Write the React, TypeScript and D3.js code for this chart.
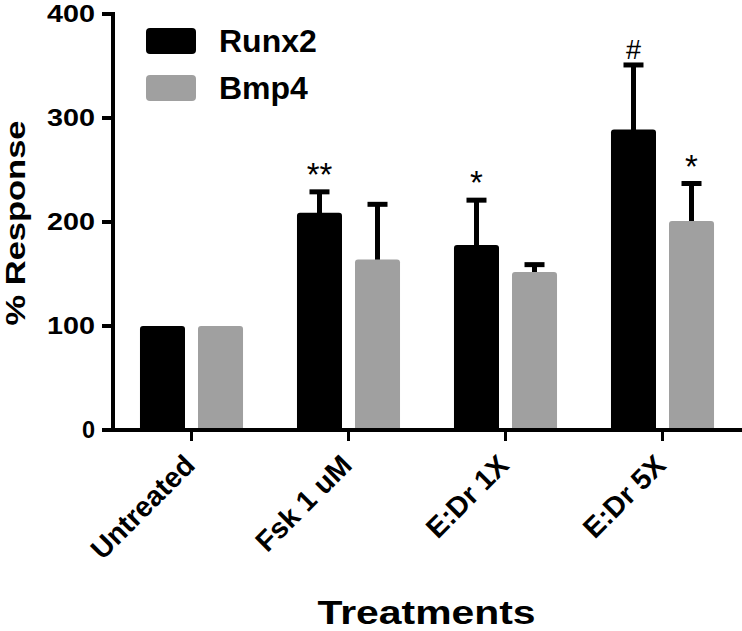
import React from "react";
import * as d3 from "d3";

const categories = ["Untreated", "Fsk 1 uM", "E:Dr 1X", "E:Dr 5X"];
const seriesNames = ["Runx2", "Bmp4"];
const runx2 = [100, 209, 178, 289];
const runx2Err = [0, 20, 43, 62];
const bmp4 = [100, 164, 152, 201];
const bmp4Err = [0, 53, 7, 36];
const runx2Sig = ["", "**", "*", "#"];
const bmp4Sig = ["", "", "", "*"];
const yTicks = [0, 100, 200, 300, 400];

const W = 742;
const H = 631;
const FONT = "'Liberation Sans', Arial, sans-serif";
const colors: Record<string, string> = { Runx2: "#000000", Bmp4: "#a0a0a0" };

export default function App() {
  const x = d3.scaleBand<string>().domain(categories).range([113, 741]).padding(0);
  const xs = d3
    .scaleBand<string>()
    .domain(seriesNames)
    .range([0, x.bandwidth()])
    .paddingInner(0.224)
    .paddingOuter(0.465);
  const y = d3.scaleLinear().domain([0, 400]).range([430, 14]);

  const series = [
    { name: "Runx2", vals: runx2, errs: runx2Err, sig: runx2Sig },
    { name: "Bmp4", vals: bmp4, errs: bmp4Err, sig: bmp4Sig },
  ];

  const barPath = (x0: number, w: number, yTop: number, yBot: number, r: number) =>
    `M${x0},${yBot} L${x0},${yTop + r} Q${x0},${yTop} ${x0 + r},${yTop} L${x0 + w - r},${yTop} Q${x0 + w},${yTop} ${x0 + w},${yTop + r} L${x0 + w},${yBot} Z`;

  return (
    <svg
      width={W}
      height={H}
      style={{ position: "absolute", left: 0, top: 0, background: "#fff" }}
      fontFamily={FONT}
    >
      {/* bars */}
      {series.map((s) =>
        categories.map((c, i) => {
          const bx = (x(c) as number) + (xs(s.name) as number);
          const bw = xs.bandwidth();
          const cx = bx + bw / 2;
          const top = y(s.vals[i]);
          const errTop = y(s.vals[i] + s.errs[i]);
          return (
            <g key={s.name + c}>
              {s.errs[i] > 0 && (
                <g stroke="#000" strokeWidth={5}>
                  <line x1={cx} x2={cx} y1={top + 2} y2={errTop} />
                  <line x1={cx - 10} x2={cx + 10} y1={errTop} y2={errTop} />
                </g>
              )}
              <path d={barPath(bx, bw, top, y(0), 3)} fill={colors[s.name]} />
              {s.sig[i] && (
                <text
                  x={cx}
                  y={errTop - 6}
                  textAnchor="middle"
                  fontSize={s.sig[i] === "#" ? 27 : 33}
                  fontFamily={FONT}
                  fill="#000"
                >
                  {s.sig[i]}
                </text>
              )}
            </g>
          );
        })
      )}

      {/* y axis */}
      <line x1={113} x2={113} y1={y(400) - 2} y2={y(0) + 2} stroke="#000" strokeWidth={4} />
      {yTicks.map((t) => (
        <g key={t}>
          <line x1={102} x2={113} y1={y(t)} y2={y(t)} stroke="#000" strokeWidth={4} />
          <text
            x={95}
            y={y(t)}
            dy="0.36em"
            textAnchor="end"
            fontSize={23.5}
            fontWeight="bold"
            {...(String(t).length > 1 ? { textLength: 48, lengthAdjust: "spacingAndGlyphs" } : {})}
          >
            {t}
          </text>
        </g>
      ))}

      {/* x axis */}
      <line x1={102} x2={742} y1={y(0)} y2={y(0)} stroke="#000" strokeWidth={4} />
      {categories.map((c) => {
        const cx = (x(c) as number) + x.bandwidth() / 2;
        return (
          <g key={c}>
            <line x1={cx} x2={cx} y1={y(0)} y2={y(0) + 11} stroke="#000" strokeWidth={3} />
            <text
              transform={`translate(${cx + 5},${467}) rotate(-45)`}
              textAnchor="end"
              fontSize={28.5}
              fontWeight="bold"
            >
              {c}
            </text>
          </g>
        );
      })}

      {/* axis titles */}
      <text
        transform={`translate(25,${223}) rotate(-90)`}
        textAnchor="middle"
        fontSize={28}
        fontWeight="bold"
        textLength={205}
        lengthAdjust="spacingAndGlyphs"
      >
        % Response
      </text>
      <text
        x={426.5}
        y={624}
        textAnchor="middle"
        fontSize={34}
        fontWeight="bold"
        textLength={218}
        lengthAdjust="spacingAndGlyphs"
      >
        Treatments
      </text>

      {/* legend */}
      {seriesNames.map((n, i) => (
        <g key={n}>
          <rect x={146} y={28 + i * 47} width={50} height={26} rx={4} fill={colors[n]} />
          <text x={219} y={52 + i * 47} fontSize={32} fontWeight="bold">
            {n}
          </text>
        </g>
      ))}
    </svg>
  );
}
